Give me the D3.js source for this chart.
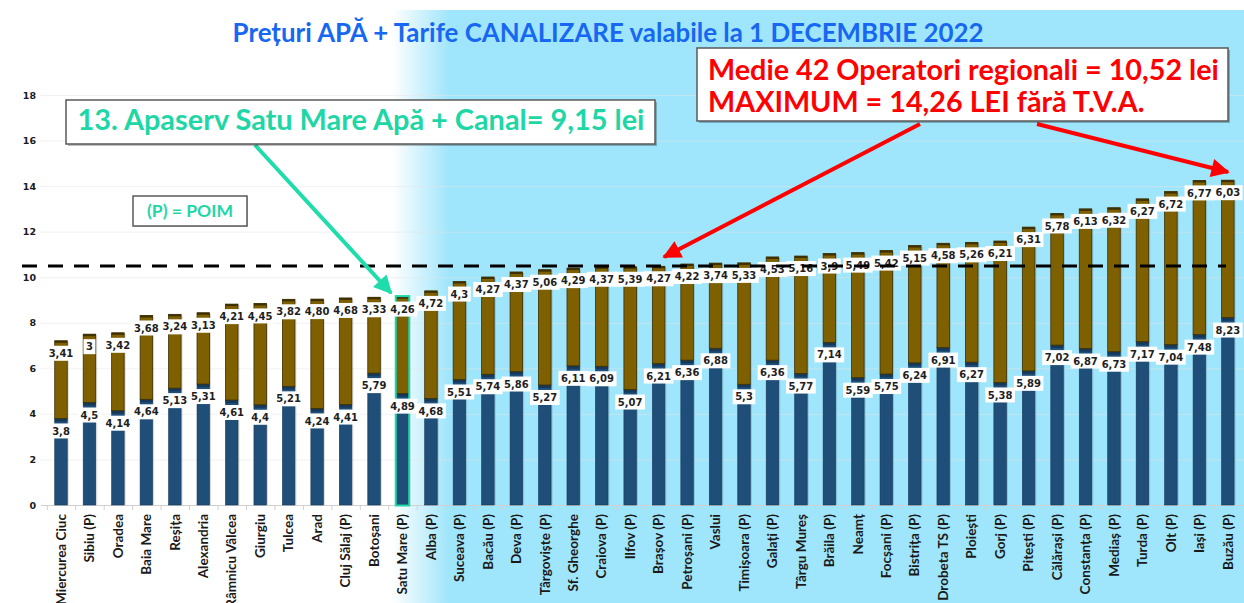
<!DOCTYPE html>
<html>
<head>
<meta charset="utf-8">
<script src="https://cdn.jsdelivr.net/npm/d3@7"></script>
<style>
  html, body { margin: 0; padding: 0; background: #ffffff; }
  svg { display: block; }
</style>
</head>
<body>
<svg id="chart" width="1244" height="603"></svg>
<script>
const categories = ["Miercurea Ciuc","Sibiu (P)","Oradea","Baia Mare","Reșița","Alexandria","Râmnicu Vâlcea","Giurgiu","Tulcea","Arad","Cluj Sălaj (P)","Botoșani","Satu Mare (P)","Alba (P)","Suceava (P)","Bacău (P)","Deva (P)","Târgoviște (P)","Sf. Gheorghe","Craiova (P)","Ilfov (P)","Brașov (P)","Petroșani (P)","Vaslui","Timișoara (P)","Galați (P)","Târgu Mureș","Brăila (P)","Neamț","Focșani (P)","Bistrița (P)","Drobeta TS (P)","Ploiești","Gorj (P)","Pitești (P)","Călărași (P)","Constanța (P)","Mediaș (P)","Turda (P)","Olt (P)","Iași (P)","Buzău (P)"];
const apa = [3.8,4.5,4.14,4.64,5.13,5.31,4.61,4.4,5.21,4.24,4.41,5.79,4.89,4.68,5.51,5.74,5.86,5.27,6.11,6.09,5.07,6.21,6.36,6.88,5.3,6.36,5.77,7.14,5.59,5.75,6.24,6.91,6.27,5.38,5.89,7.02,6.87,6.73,7.17,7.04,7.48,8.23];
const canal = [3.41,3,3.42,3.68,3.24,3.13,4.21,4.45,3.82,4.80,4.68,3.33,4.26,4.72,4.3,4.27,4.37,5.06,4.29,4.37,5.39,4.27,4.22,3.74,5.33,4.53,5.16,3.9,5.49,5.42,5.15,4.58,5.26,6.21,6.31,5.78,6.13,6.32,6.27,6.72,6.77,6.03];
const apaLabels = ["3,8","4,5","4,14","4,64","5,13","5,31","4,61","4,4","5,21","4,24","4,41","5,79","4,89","4,68","5,51","5,74","5,86","5,27","6,11","6,09","5,07","6,21","6,36","6,88","5,3","6,36","5,77","7,14","5,59","5,75","6,24","6,91","6,27","5,38","5,89","7,02","6,87","6,73","7,17","7,04","7,48","8,23"];
const canalLabels = ["3,41","3","3,42","3,68","3,24","3,13","4,21","4,45","3,82","4,80","4,68","3,33","4,26","4,72","4,3","4,27","4,37","5,06","4,29","4,37","5,39","4,27","4,22","3,74","5,33","4,53","5,16","3,9","5,49","5,42","5,15","4,58","5,26","6,21","6,31","5,78","6,13","6,32","6,27","6,72","6,77","6,03"];
const yTicks = [0,2,4,6,8,10,12,14,16,18];
const meanValue = 10.52;
const highlightCategory = "Satu Mare (P)";
const titleText = "Prețuri APĂ + Tarife CANALIZARE valabile la 1 DECEMBRIE 2022";
const noteSatuMare = "13. Apaserv Satu Mare Apă + Canal= 9,15 lei";
const notePoim = "(P) = POIM";
const noteMean = ["Medie 42 Operatori regionali = 10,52 lei", "MAXIMUM = 14,26 LEI fără T.V.A."];

const svg = d3.select("#chart");
const W = 1244, H = 603;

// Background
const defs = svg.append("defs");
const grad = defs.append("linearGradient").attr("id","bg").attr("x1","0").attr("x2","1").attr("y1","0").attr("y2","0");
grad.append("stop").attr("offset","0").attr("stop-color","#ffffff");
grad.append("stop").attr("offset","0.068").attr("stop-color","#9fe5fb");
grad.append("stop").attr("offset","1").attr("stop-color","#9fe5fb");
svg.append("rect").attr("x",0).attr("y",0).attr("width",W).attr("height",H).attr("fill","#ffffff");
svg.append("rect").attr("x",392).attr("y",10).attr("width",W-392).attr("height",H-10).attr("fill","url(#bg)");

const arrowDefs = (id, color) => {
  defs.append("marker").attr("id", id).attr("viewBox","0 0 10 10").attr("refX",9).attr("refY",5)
    .attr("markerWidth",5.2).attr("markerHeight",4.6).attr("markerUnits","strokeWidth").attr("orient","auto")
    .append("path").attr("d","M0,0 L10,5 L0,10 z").attr("fill", color);
};
arrowDefs("arrTeal", "#1fdcab");
arrowDefs("arrRed", "#ff0000");

// Scales
const y = d3.scaleLinear().domain([0,18]).range([505,95]);
const x = d3.scaleBand().domain(categories).range([40.5,1248.3]).paddingInner(0.56).paddingOuter(0.5);

// Gridlines (faint)
svg.append("g").selectAll("line").data(yTicks.slice(1)).join("line")
  .attr("x1",40).attr("x2",W).attr("y1",d=>y(d)+0.5).attr("y2",d=>y(d)+0.5)
  .attr("stroke","#e6e6e6").attr("stroke-opacity",0.5).attr("stroke-width",1);

// Y axis
const yAxis = d3.axisLeft(y).tickValues(yTicks).tickSize(0).tickPadding(0).tickFormat(d3.format("d"));
const yg = svg.append("g").attr("transform","translate(36,0)").call(yAxis);
yg.select(".domain").remove();
yg.selectAll("text").attr("font-family","'DejaVu Sans', sans-serif").attr("font-weight","bold")
  .attr("font-size","9.5px").attr("fill","#1a1a1a");

// X axis
const xAxis = d3.axisBottom(x).tickSize(0).tickPadding(0);
const xg = svg.append("g").attr("transform","translate(0,505)").call(xAxis);
xg.select(".domain").attr("stroke","#d0d0d0").attr("stroke-width",1);
xg.selectAll(".tick text")
  .attr("transform","translate(0,9) rotate(-90)")
  .attr("text-anchor","end").attr("dy","0.35em").attr("x",0).attr("y",0)
  .attr("font-family","Lato, 'Open Sans', sans-serif").attr("font-weight","bold")
  .attr("font-size","13.5px").attr("fill","#1a1a1a");
// category separator ticks
svg.append("g").selectAll("line").data(categories).join("line")
  .attr("x1",d=>x(d)-x.step()*0.28+0.5).attr("x2",d=>x(d)-x.step()*0.28+0.5)
  .attr("y1",505).attr("y2",510).attr("stroke","#d0d0d0");

// Bars
const BLUE = "#1f4e79", BLUE_D = "#16395a", BROWN = "#7f6000", BROWN_D = "#3e2f00";
const bars = svg.append("g");
categories.forEach((c,i) => {
  const bx = x(c), bw = x.bandwidth();
  const yA = y(apa[i]), yT = y(apa[i]+canal[i]);
  bars.append("rect").attr("x",bx+1.5).attr("y",yT+1).attr("width",bw).attr("height",y(0)-yT-1)
    .attr("fill","#000").attr("opacity",0.15);
  bars.append("rect").attr("x",bx).attr("y",yA).attr("width",bw).attr("height",y(0)-yA)
    .attr("fill",BLUE).attr("stroke",BLUE_D).attr("stroke-width",0.6);
  bars.append("rect").attr("x",bx).attr("y",yA).attr("width",bw).attr("height",3)
    .attr("fill",BLUE_D);
  bars.append("rect").attr("x",bx).attr("y",yT).attr("width",bw).attr("height",yA-yT)
    .attr("fill",BROWN).attr("stroke",BROWN_D).attr("stroke-width",0.8);
  bars.append("rect").attr("x",bx).attr("y",yT).attr("width",bw).attr("height",2)
    .attr("fill",BROWN_D);
  if (c === highlightCategory) {
    bars.append("rect").attr("x",bx-0.5).attr("y",yT-0.5).attr("width",bw+1).attr("height",y(0)-yT+1)
      .attr("fill","none").attr("stroke","#1fd8a8").attr("stroke-width",2);
  }
});

// Value labels
const lbl = svg.append("g");
function valueLabel(cx, cy, txt) {
  const g = lbl.append("g");
  const t = g.append("text").attr("x",cx).attr("y",cy).attr("dy","0.36em").attr("text-anchor","middle")
    .attr("font-family","'DejaVu Sans', sans-serif").attr("font-weight","bold").attr("font-size","10px")
    .attr("fill","#1e1e1e").text(txt);
  const w = t.node().getComputedTextLength();
  g.insert("rect","text").attr("x",cx-w/2-2.5).attr("y",cy-7.5).attr("width",w+5).attr("height",15)
    .attr("fill","#ffffff");
}
categories.forEach((c,i) => {
  const cx = x(c) + x.bandwidth()/2;
  valueLabel(cx, y(apa[i]) + 12.5, apaLabels[i]);
});
categories.forEach((c,i) => {
  const cx = x(c) + x.bandwidth()/2;
  valueLabel(cx, y(apa[i]+canal[i]) + 12.5, canalLabels[i]);
});

// Mean line
svg.append("line").attr("x1",22).attr("x2",1226).attr("y1",y(meanValue)+0.5).attr("y2",y(meanValue)+0.5)
  .attr("stroke","#000").attr("stroke-width",3).attr("stroke-dasharray","15,11");

// Fit text helper
function fitText(sel, target) {
  const w = sel.node().getComputedTextLength();
  const fs = parseFloat(sel.attr("font-size"));
  sel.attr("font-size", (fs*target/w).toFixed(2) + "px");
}

// Title
const title = svg.append("text").attr("x",608).attr("y",42).attr("text-anchor","middle")
  .attr("font-family","Lato, sans-serif").attr("font-weight","bold").attr("font-size","21px")
  .attr("fill","#1767f2").text(titleText);
fitText(title, 751);

// Annotation: Satu Mare
svg.append("line").attr("x1",255).attr("y1",145).attr("x2",391).attr("y2",293)
  .attr("stroke","#1fdcab").attr("stroke-width",4).attr("marker-end","url(#arrTeal)");
svg.append("rect").attr("x",68).attr("y",102).attr("width",589).attr("height",44).attr("fill","#000").attr("opacity",0.25);
svg.append("rect").attr("x",66).attr("y",100).attr("width",589).attr("height",44)
  .attr("fill","#fff").attr("stroke","#595959").attr("stroke-width",1.5);
const t1 = svg.append("text").attr("x",361).attr("y",130).attr("text-anchor","middle")
  .attr("font-family","Lato, sans-serif").attr("font-weight","bold").attr("font-size","24px")
  .attr("fill","#1fd6a6").text(noteSatuMare);
fitText(t1, 567);

// POIM box
svg.append("rect").attr("x",134).attr("y",197).attr("width",114).attr("height",30).attr("fill","#000").attr("opacity",0.2);
svg.append("rect").attr("x",133).attr("y",196).attr("width",114).attr("height",30)
  .attr("fill","#fff").attr("stroke","#595959").attr("stroke-width",1.5);
const t2 = svg.append("text").attr("x",190).attr("y",216.5).attr("text-anchor","middle")
  .attr("font-family","Lato, sans-serif").attr("font-weight","bold").attr("font-size","15px")
  .attr("fill","#1fd6a6").text(notePoim);
fitText(t2, 86);

// Mean / maximum annotation
svg.append("line").attr("x1",920).attr("y1",124).attr("x2",664).attr("y2",257)
  .attr("stroke","#ff0000").attr("stroke-width",4).attr("marker-end","url(#arrRed)");
svg.append("line").attr("x1",1037).attr("y1",124).attr("x2",1228).attr("y2",172)
  .attr("stroke","#ff0000").attr("stroke-width",4).attr("marker-end","url(#arrRed)");
svg.append("rect").attr("x",699).attr("y",50).attr("width",531).attr("height",73).attr("fill","#000").attr("opacity",0.25);
svg.append("rect").attr("x",697).attr("y",48).attr("width",531).attr("height",73)
  .attr("fill","#fff").attr("stroke","#595959").attr("stroke-width",1.5);
const t3 = svg.append("text").attr("x",708).attr("y",80)
  .attr("font-family","Lato, sans-serif").attr("font-weight","bold").attr("font-size","24px")
  .attr("fill","#ff0000").text(noteMean[0]);
fitText(t3, 511);
const t4 = svg.append("text").attr("x",708).attr("y",112)
  .attr("font-family","Lato, sans-serif").attr("font-weight","bold").attr("font-size",t3.attr("font-size"))
  .attr("fill","#ff0000").text(noteMean[1]);
</script>
</body>
</html>
